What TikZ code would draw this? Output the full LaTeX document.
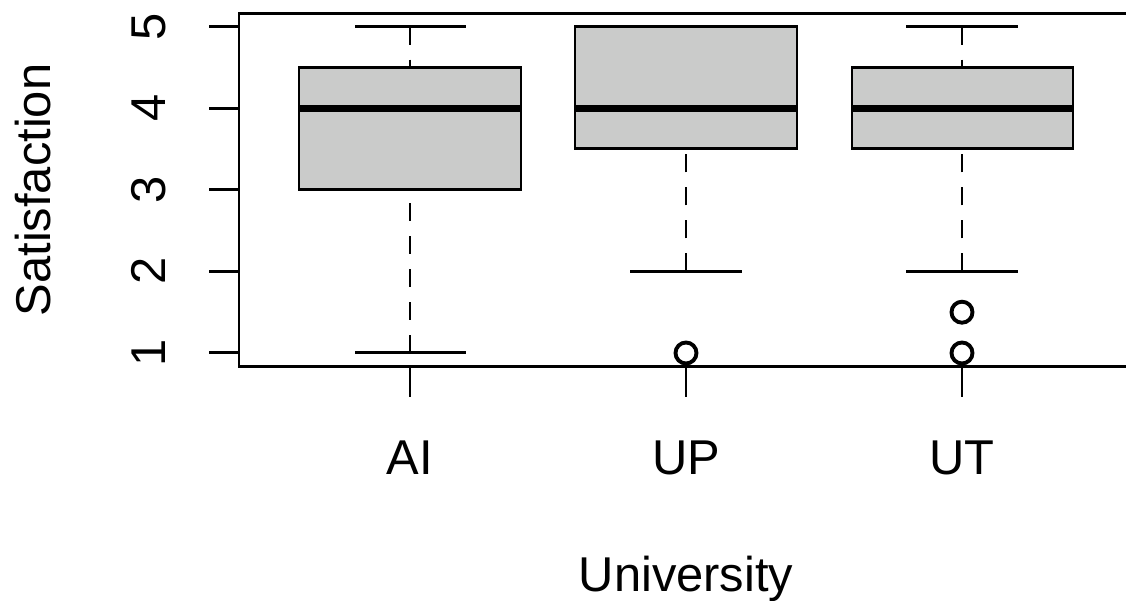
\documentclass[tikz,border=0pt]{standalone}
\usepackage{fontspec}
\setmainfont{Liberation Sans}
\definecolor{boxfill}{RGB}{202,203,202}

\begin{document}
\begin{tikzpicture}[x=0.01cm,y=-0.01cm,
        axisline/.style={line width=0.85pt},
        iqrbox/.style={draw,line width=0.85pt,fill=boxfill},
        median/.style={line width=2pt},
        whisker/.style={line width=0.85pt,dash pattern=on 0.18cm off 0.15cm},
        outlier/.style={draw,circle,line width=1.1pt,minimum size=0.21cm,inner sep=0pt},
        lbl/.style={font=\fontsize{13.9}{16}\selectfont}]
        \useasboundingbox (0,0) rectangle (1126,601);

        \draw[axisline] (1140,14) -- (239,14) -- (239,367) -- (1140,367);
        \foreach \y/\v in {26.6/5,108.2/4,189.8/3,271.4/2,353/1} {
                \draw[axisline] (209,\y) -- (239,\y);
                \node[lbl,rotate=90,anchor=base,inner sep=0pt] (tick\v) at (166,\y) {\v};
        }
        \foreach \x/\u in {410/AI,686/UP,962/UT} {
                \draw[axisline] (\x,367) -- (\x,397);
                \node[lbl,anchor=base,inner sep=0pt] (name\u) at (\x,475) {\u};
        }
        \node[lbl,rotate=90,anchor=base,inner sep=0pt] (Satisfaction) at (51,190) {Satisfaction};
        \node[lbl,anchor=base,inner sep=0pt] (University) at (686,592) {University};

        \draw[whisker] (410,26.6) -- (410,67.4);
        \draw[whisker] (410,353) -- (410,189.8);
        \draw[axisline] (355,26.6) -- (466,26.6);
        \draw[axisline] (355,353) -- (466,353);
        \draw[iqrbox] (299,67.4) rectangle (521,189.8);
        \draw[median] (299,108.2) -- (521,108.2);

        \draw[whisker] (686,271.4) -- (686,149);
        \draw[axisline] (630,26.6) -- (742,26.6);
        \draw[axisline] (630,271.4) -- (742,271.4);
        \draw[iqrbox] (575,26.6) rectangle (797,149);
        \draw[median] (575,108.2) -- (797,108.2);
        \node[outlier] (UPout) at (686,353) {};

        \draw[whisker] (962,26.6) -- (962,67.4);
        \draw[whisker] (962,271.4) -- (962,149);
        \draw[axisline] (906,26.6) -- (1018,26.6);
        \draw[axisline] (906,271.4) -- (1018,271.4);
        \draw[iqrbox] (852,67.4) rectangle (1073,149);
        \draw[median] (852,108.2) -- (1073,108.2);
        \node[outlier] (UTout1) at (962,312.2) {};
        \node[outlier] (UTout2) at (962,353) {};

\end{tikzpicture}
\end{document}
